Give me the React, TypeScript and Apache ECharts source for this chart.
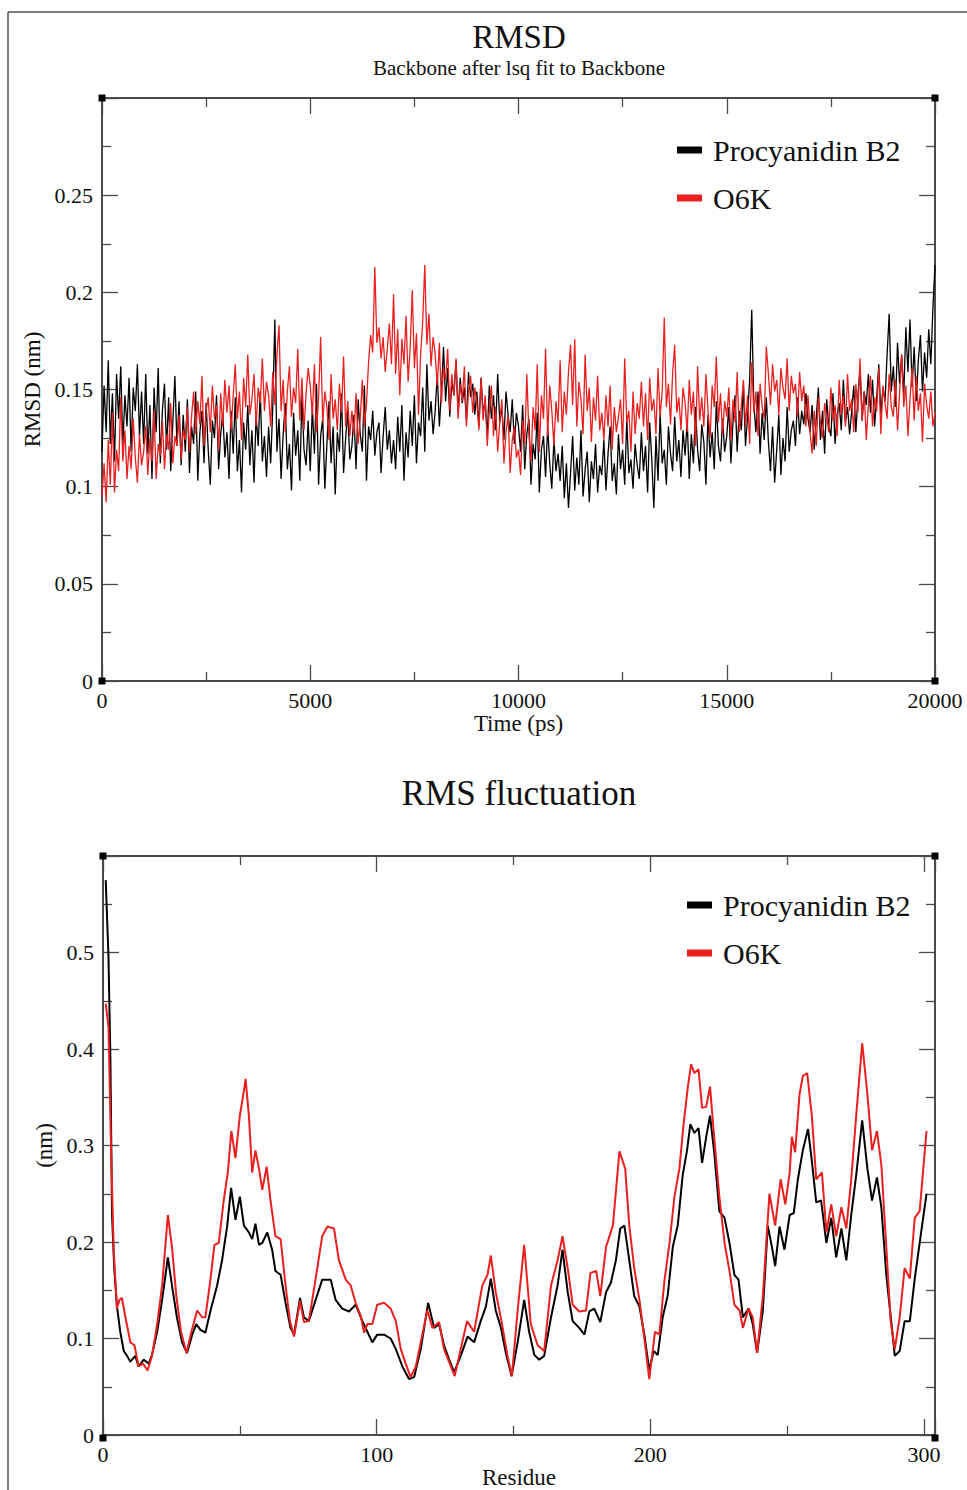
import React, { useEffect, useRef } from "react";
import * as echarts from "echarts";

// ---------- RMSD data (time step 50 ps, 0 .. 20000 ps) ----------
const rmsdStepPs = 50;
const rmsdProcyanidinB2 = [
  0.118, 0.152, 0.128, 0.165, 0.122, 0.148, 0.113, 0.158, 0.135, 0.162, 0.121, 0.147, 0.131, 0.156, 0.118, 0.151, 0.139, 0.163, 0.126, 0.149,
  0.122, 0.158, 0.117, 0.142, 0.104, 0.151, 0.128, 0.161, 0.112, 0.139, 0.153, 0.119, 0.146, 0.108, 0.133, 0.157, 0.121, 0.144, 0.111, 0.137,
  0.118, 0.145, 0.107, 0.131, 0.122, 0.149, 0.103, 0.128, 0.139, 0.112, 0.143, 0.119, 0.101, 0.134, 0.125, 0.147, 0.109, 0.127, 0.138, 0.115,
  0.128, 0.104, 0.139, 0.117, 0.146, 0.108, 0.124, 0.097, 0.133, 0.119, 0.142, 0.111, 0.129, 0.102, 0.137, 0.121, 0.149, 0.113, 0.126, 0.105,
  0.131, 0.112, 0.141, 0.186, 0.118, 0.135, 0.104, 0.127, 0.143, 0.109, 0.122, 0.098, 0.138, 0.116, 0.129, 0.103, 0.147, 0.119, 0.111, 0.134,
  0.108, 0.141, 0.117, 0.153, 0.101, 0.126, 0.135, 0.099, 0.122, 0.144, 0.112, 0.131, 0.096, 0.128, 0.118, 0.148, 0.107, 0.125, 0.139, 0.114,
  0.121, 0.137, 0.109, 0.145, 0.127, 0.118, 0.152, 0.103, 0.131, 0.124, 0.139, 0.116, 0.128, 0.133, 0.107, 0.126, 0.141, 0.119, 0.129, 0.112,
  0.124, 0.109, 0.136, 0.118, 0.142, 0.103, 0.128, 0.115, 0.139, 0.121, 0.147, 0.112, 0.133, 0.126, 0.151, 0.118, 0.163, 0.134, 0.144, 0.127,
  0.139, 0.158, 0.131, 0.149, 0.172, 0.144, 0.161, 0.136, 0.154, 0.147, 0.165, 0.138, 0.156, 0.143, 0.151, 0.134, 0.159, 0.146, 0.153, 0.137,
  0.149, 0.131, 0.156, 0.138, 0.144, 0.126, 0.152, 0.135, 0.147, 0.129, 0.158, 0.133, 0.141, 0.124, 0.149, 0.137, 0.128, 0.145, 0.122, 0.138,
  0.131, 0.118, 0.142, 0.109, 0.127, 0.135, 0.101, 0.122, 0.114, 0.138, 0.097, 0.119, 0.126, 0.105, 0.131, 0.112, 0.099, 0.124, 0.108, 0.117,
  0.103, 0.121, 0.094, 0.112, 0.089, 0.107, 0.126, 0.098, 0.115, 0.101, 0.129, 0.095, 0.109, 0.118, 0.092, 0.113, 0.104, 0.122, 0.097, 0.111,
  0.106, 0.124, 0.098, 0.117, 0.131, 0.103, 0.112, 0.096, 0.127, 0.109, 0.119, 0.101, 0.135, 0.107, 0.114, 0.099, 0.122, 0.111, 0.104, 0.128,
  0.108, 0.121, 0.097, 0.133, 0.114, 0.089, 0.126, 0.103, 0.138, 0.112, 0.119, 0.101, 0.131, 0.117, 0.108, 0.136, 0.113, 0.124, 0.105, 0.129,
  0.116, 0.134, 0.104, 0.127, 0.112, 0.141, 0.119, 0.108, 0.132, 0.123, 0.101, 0.137, 0.115, 0.128, 0.109, 0.144, 0.121, 0.113, 0.135, 0.118,
  0.126, 0.141, 0.112, 0.134, 0.147, 0.118, 0.139, 0.129, 0.152, 0.121, 0.136, 0.155, 0.191, 0.143, 0.128, 0.149, 0.117, 0.138, 0.124, 0.146,
  0.123, 0.108, 0.131, 0.102, 0.119, 0.137, 0.106, 0.125, 0.113, 0.141, 0.118, 0.129, 0.134, 0.121, 0.146, 0.127, 0.139, 0.132, 0.148, 0.135,
  0.128, 0.142, 0.119, 0.136, 0.151, 0.124, 0.139, 0.117, 0.145, 0.131, 0.126, 0.148, 0.122, 0.137, 0.143, 0.129, 0.155, 0.133, 0.141, 0.127,
  0.139, 0.152, 0.128, 0.147, 0.161, 0.134, 0.149, 0.142, 0.158, 0.138, 0.155, 0.131, 0.146, 0.163, 0.137, 0.151, 0.144, 0.168, 0.189, 0.149,
  0.162, 0.141, 0.174, 0.153, 0.168, 0.147, 0.182, 0.159, 0.186, 0.151, 0.172, 0.144, 0.165, 0.178, 0.149, 0.169, 0.156, 0.181, 0.163, 0.192,
  0.214,
];
const rmsdO6K = [
  0.095, 0.112, 0.092, 0.124, 0.101, 0.138, 0.097, 0.119, 0.108, 0.146, 0.113, 0.129, 0.104, 0.121, 0.109, 0.135, 0.115, 0.102, 0.127, 0.111,
  0.118, 0.131, 0.106, 0.125, 0.113, 0.139, 0.104, 0.122, 0.116, 0.134, 0.109, 0.127, 0.119, 0.143, 0.112, 0.126, 0.121, 0.137, 0.114, 0.129,
  0.124, 0.141, 0.118, 0.136, 0.149, 0.127, 0.144, 0.132, 0.157, 0.121, 0.139, 0.146, 0.128, 0.152, 0.135, 0.142, 0.119, 0.148, 0.131, 0.155,
  0.138, 0.152, 0.129, 0.147, 0.163, 0.135, 0.149, 0.124, 0.156, 0.141, 0.168, 0.137, 0.145, 0.158, 0.131, 0.151, 0.143, 0.166, 0.139, 0.154,
  0.147, 0.131, 0.159, 0.142, 0.168, 0.183, 0.139, 0.155, 0.128, 0.149, 0.162, 0.136, 0.151, 0.143, 0.171, 0.134, 0.156, 0.129, 0.148, 0.161,
  0.152, 0.137, 0.163, 0.128, 0.146, 0.177, 0.133, 0.149, 0.141, 0.124, 0.158, 0.135, 0.145, 0.129, 0.153, 0.138, 0.167, 0.131, 0.144, 0.126,
  0.139, 0.127, 0.148, 0.122, 0.135, 0.155, 0.131, 0.142, 0.164, 0.178, 0.169, 0.213, 0.174, 0.182, 0.166, 0.177, 0.159, 0.171, 0.184, 0.163,
  0.199, 0.158, 0.181, 0.147, 0.176, 0.163, 0.188, 0.154, 0.172, 0.201, 0.161, 0.179, 0.137, 0.168, 0.185, 0.214, 0.173, 0.189, 0.162, 0.177,
  0.168, 0.152, 0.174, 0.143, 0.161, 0.155, 0.171, 0.139, 0.158, 0.147, 0.166, 0.135, 0.153, 0.144, 0.162, 0.131, 0.149, 0.157, 0.138, 0.151,
  0.143, 0.129, 0.156, 0.134, 0.147, 0.121, 0.139, 0.152, 0.126, 0.141, 0.118, 0.133, 0.145, 0.112, 0.128, 0.137, 0.107, 0.124, 0.131, 0.115,
  0.119, 0.106, 0.134, 0.122, 0.158, 0.127, 0.113, 0.141, 0.129, 0.163, 0.118, 0.147, 0.135, 0.171, 0.126, 0.152, 0.139, 0.121, 0.144, 0.133,
  0.165, 0.128, 0.149, 0.137, 0.159, 0.173, 0.142, 0.176, 0.131, 0.154, 0.145, 0.127, 0.168, 0.139, 0.151, 0.123, 0.146, 0.134, 0.157, 0.129,
  0.138, 0.124, 0.147, 0.131, 0.152, 0.119, 0.141, 0.128, 0.136, 0.145, 0.122, 0.166, 0.133, 0.139, 0.118, 0.149, 0.127, 0.143, 0.135, 0.154,
  0.131, 0.148, 0.124, 0.156, 0.139, 0.145, 0.127, 0.161, 0.136, 0.149, 0.187, 0.141, 0.153, 0.132, 0.158, 0.173, 0.138, 0.146, 0.129, 0.151,
  0.143, 0.128, 0.155, 0.137, 0.149, 0.121, 0.162, 0.134, 0.146, 0.131, 0.158, 0.139, 0.125, 0.152, 0.141, 0.167, 0.133, 0.148, 0.127, 0.144,
  0.136, 0.151, 0.124, 0.145, 0.133, 0.159, 0.128, 0.142, 0.155, 0.131, 0.147, 0.122, 0.164, 0.138, 0.149, 0.126, 0.153, 0.141, 0.135, 0.172,
  0.158, 0.142, 0.163, 0.149, 0.155, 0.137, 0.161, 0.151, 0.145, 0.166, 0.139, 0.157, 0.148, 0.153, 0.136, 0.159, 0.144, 0.152, 0.131, 0.147,
  0.128, 0.117, 0.139, 0.121, 0.146, 0.132, 0.125, 0.143, 0.136, 0.128, 0.151, 0.134, 0.142, 0.126, 0.155, 0.137, 0.147, 0.131, 0.158, 0.139,
  0.145, 0.128, 0.153, 0.138, 0.166, 0.134, 0.149, 0.124, 0.142, 0.157, 0.131, 0.146, 0.139, 0.161, 0.127, 0.152, 0.143, 0.135, 0.158, 0.141,
  0.136, 0.155, 0.129, 0.148, 0.168, 0.141, 0.152, 0.126, 0.145, 0.161, 0.134, 0.157, 0.139, 0.148, 0.123, 0.153, 0.142, 0.135, 0.149, 0.131,
  0.138,
];

// ---------- RMSF data (residue, nm) ----------
const rmsfResidueB2 = [
  1, 2, 2.7, 3.3, 4.1, 5.1, 6.3, 7.6, 8.8, 10, 11.8, 13, 14.9, 16.7, 17.9, 19.8, 21.6, 23.7, 25.2, 27,
  28.9, 30.7, 32.6, 34.1, 35.6, 37.4, 39.3, 41.7, 43.5, 45.4, 46.8, 48.4, 50, 51.5, 53.3, 54.5, 55.7, 57, 58.2, 60,
  61.8, 63, 64.9, 66.7, 68.5, 69.8, 72, 73.4, 75.2, 77.7, 80.1, 83.2, 85, 87.4, 89.9, 92.3, 94.8, 96.6, 98.4, 100.2,
  102.7, 105.1, 107, 109.4, 111.8, 113.7, 116.1, 118.8, 121, 122.8, 124.6, 126.5, 128.3, 130.7, 133.2, 135.6, 138, 139.9, 141.7, 143.5,
  145.4, 147.2, 149.3, 151.5, 153.9, 155.7, 157.6, 159.4, 161.2, 163.7, 166.1, 167.9, 169.8, 171.6, 174, 175.9, 177.7, 179.5, 181.7, 183.8,
  185.6, 187.4, 189, 190.5, 192.3, 194.1, 196, 197.8, 199.6, 201.2, 202.7, 204.5, 206.3, 208.2, 210, 211.8, 213.4, 214.6, 216.1, 217.6,
  218.9, 220.4, 221.8, 223.4, 225.2, 227.1, 228.9, 230.7, 232.2, 233.8, 235.9, 237.4, 239, 241.1, 242.9, 244.4, 245.6, 247.2, 249, 250.9,
  252.4, 253.9, 255.7, 257.6, 259, 260.6, 262.4, 264.3, 266.1, 267.9, 269.8, 271.6, 273.4, 275.2, 277.4, 279.3, 281, 282.8, 284.4, 286.2,
  288, 289.3, 291.1, 292.9, 294.8, 296.6, 298.4, 300.9,
];
const rmsfProcyanidinB2 = [
  0.575, 0.496, 0.39, 0.228, 0.173, 0.133, 0.107, 0.087, 0.082, 0.076, 0.082, 0.071, 0.078, 0.074, 0.083, 0.107, 0.14, 0.184, 0.155, 0.122,
  0.096, 0.085, 0.104, 0.115, 0.109, 0.106, 0.129, 0.155, 0.181, 0.217, 0.256, 0.223, 0.247, 0.217, 0.21, 0.203, 0.219, 0.197, 0.199, 0.21,
  0.192, 0.17, 0.166, 0.137, 0.111, 0.104, 0.142, 0.122, 0.118, 0.14, 0.161, 0.161, 0.14, 0.131, 0.128, 0.135, 0.118, 0.107, 0.096, 0.104,
  0.104, 0.1, 0.089, 0.071, 0.058, 0.06, 0.089, 0.137, 0.111, 0.115, 0.093, 0.078, 0.065, 0.082, 0.102, 0.096, 0.118, 0.133, 0.162, 0.129,
  0.111, 0.085, 0.061, 0.096, 0.14, 0.107, 0.083, 0.078, 0.082, 0.122, 0.155, 0.192, 0.148, 0.118, 0.111, 0.104, 0.128, 0.131, 0.117, 0.148,
  0.158, 0.181, 0.214, 0.217, 0.181, 0.144, 0.133, 0.104, 0.067, 0.087, 0.083, 0.122, 0.144, 0.195, 0.217, 0.269, 0.295, 0.322, 0.313, 0.318,
  0.282, 0.309, 0.331, 0.291, 0.232, 0.225, 0.199, 0.166, 0.161, 0.122, 0.131, 0.115, 0.085, 0.129, 0.217, 0.195, 0.175, 0.216, 0.192, 0.228,
  0.23, 0.265, 0.295, 0.317, 0.284, 0.241, 0.243, 0.199, 0.225, 0.184, 0.214, 0.181, 0.228, 0.269, 0.326, 0.276, 0.243, 0.267, 0.236, 0.166,
  0.118, 0.082, 0.087, 0.118, 0.118, 0.162, 0.199, 0.25,
];
const rmsfResidueO6K = [
  1, 2, 2.9, 3.9, 5.1, 6, 6.9, 8.2, 10, 11.5, 13, 14.6, 16.3, 17.9, 19.8, 21.6, 23.7, 25.2, 26.8, 28.5,
  30.5, 32.3, 34.4, 36.2, 37.4, 39.3, 40.7, 42.3, 44.1, 45.6, 46.9, 48.4, 50, 51.5, 52.1, 53.3, 54.5, 55.7, 57, 58.2,
  59.8, 61.2, 63, 64.9, 66.7, 68.3, 69.8, 72, 73.4, 75.2, 77.7, 80.1, 82, 84.4, 86.2, 88.7, 90.5, 92.3, 94.1, 95.4,
  96.6, 98.4, 100.2, 102.7, 105.1, 107, 108.8, 110.6, 112.4, 114.3, 116.1, 118.5, 120.4, 122.8, 124.6, 127.1, 128.5, 130.7, 133, 135.6,
  138.6, 140.5, 141.7, 143.5, 145.6, 147.8, 149.4, 151.5, 153.9, 156.3, 158.8, 161.2, 163.7, 166.1, 167.9, 169.8, 171.6, 174, 176.5, 178.1,
  180.2, 181.7, 183.8, 186.3, 188.7, 190.8, 192.3, 194.1, 196, 197.8, 199.6, 201.7, 203.3, 205.1, 207, 208.8, 210.6, 212.2, 213.7, 214.9,
  216.1, 217.6, 218.9, 220.4, 221.8, 223.4, 225.2, 227.1, 228.9, 230.7, 232.6, 233.8, 235.9, 237.4, 239, 241.1, 243.5, 245.6, 247.6, 249.3,
  250.9, 251.7, 252.9, 254.5, 255.7, 257.3, 259, 260.6, 262.7, 264.3, 266.1, 267.9, 269.8, 271.6, 273.4, 275.2, 277.4, 279.3, 281, 282.8,
  284.4, 286.2, 287.8, 289.3, 291.1, 292.9, 294.8, 296.6, 298.4, 300.9,
];
const rmsfO6K = [
  0.447, 0.423, 0.302, 0.192, 0.131, 0.14, 0.142, 0.122, 0.096, 0.093, 0.071, 0.074, 0.067, 0.082, 0.115, 0.155, 0.228, 0.195, 0.144, 0.107,
  0.085, 0.107, 0.129, 0.122, 0.122, 0.162, 0.197, 0.199, 0.243, 0.272, 0.315, 0.287, 0.331, 0.357, 0.369, 0.331, 0.272, 0.295, 0.276, 0.254,
  0.278, 0.243, 0.206, 0.203, 0.155, 0.118, 0.102, 0.139, 0.117, 0.118, 0.162, 0.206, 0.216, 0.214, 0.181, 0.161, 0.155, 0.137, 0.124, 0.106,
  0.115, 0.115, 0.135, 0.137, 0.131, 0.118, 0.089, 0.074, 0.06, 0.071, 0.096, 0.129, 0.111, 0.117, 0.089, 0.071, 0.061, 0.089, 0.118, 0.107,
  0.155, 0.166, 0.186, 0.148, 0.118, 0.082, 0.061, 0.129, 0.197, 0.115, 0.093, 0.087, 0.155, 0.181, 0.206, 0.173, 0.135, 0.128, 0.129, 0.168,
  0.17, 0.144, 0.195, 0.217, 0.294, 0.276, 0.217, 0.173, 0.14, 0.1, 0.058, 0.107, 0.104, 0.159, 0.199, 0.247, 0.276, 0.324, 0.361, 0.384,
  0.375, 0.379, 0.339, 0.34, 0.361, 0.306, 0.247, 0.199, 0.17, 0.135, 0.129, 0.111, 0.131, 0.122, 0.085, 0.144, 0.25, 0.217, 0.265, 0.239,
  0.272, 0.309, 0.293, 0.353, 0.372, 0.375, 0.331, 0.265, 0.272, 0.21, 0.239, 0.206, 0.236, 0.214, 0.265, 0.331, 0.406, 0.353, 0.295, 0.315,
  0.28, 0.195, 0.118, 0.089, 0.122, 0.173, 0.162, 0.225, 0.232, 0.315,
];

const seriesNames = ["Procyanidin B2", "O6K"];

const FONT = "'Liberation Serif', 'Times New Roman', Times, serif";
const AXIS = "#4a4a4a";
const BLACK = "#000000";
const RED = "#e8201f";

const G1 = { left: 102, top: 98, width: 833, height: 583 };
const G2 = { left: 103, top: 856, width: 832, height: 582 };

const plainNumber = (v: number) => String(v);

function frameAxis(extra: any, withLabels: boolean) {
  return {
    type: "value",
    axisLine: { show: true, onZero: false, lineStyle: { color: AXIS, width: 2 } },
    axisTick: { show: true, inside: true, length: 16, lineStyle: { color: AXIS, width: 1.3 } },
    minorTick: { show: true, splitNumber: 2, length: 9, lineStyle: { color: AXIS, width: 1.3 } },
    splitLine: { show: false },
    minorSplitLine: { show: false },
    axisLabel: withLabels
      ? { show: true, fontFamily: FONT, fontSize: 22, color: "#111" }
      : { show: false },
    ...extra,
  };
}

function corners(g: { left: number; top: number; width: number; height: number }) {
  const pts = [
    [g.left, g.top],
    [g.left + g.width, g.top],
    [g.left, g.top + g.height],
    [g.left + g.width, g.top + g.height],
  ];
  return pts.map(([x, y]) => ({
    type: "rect",
    shape: { x: x - 3.5, y: y - 3.5, width: 7, height: 7 },
    style: { fill: "#000" },
    z: 100,
  }));
}

export default function App() {
  const ref = useRef<HTMLDivElement>(null);

  useEffect(() => {
    if (!ref.current) return;
    const chart = echarts.init(ref.current, undefined, { renderer: "svg" });

    const rmsdB2 = rmsdProcyanidinB2.map((v, i) => [i * rmsdStepPs, v]);
    const rmsdO = rmsdO6K.map((v, i) => [i * rmsdStepPs, v]);
    const rmsfB2 = rmsfProcyanidinB2.map((v, i) => [rmsfResidueB2[i], v]);
    const rmsfO = rmsfO6K.map((v, i) => [rmsfResidueO6K[i], v]);

    const nameStyle = { fontFamily: FONT, fontSize: 23, color: "#111" };
    const legendText = { fontFamily: FONT, fontSize: 30, color: "#111", lineHeight: 34, padding: [0, 0, 0, 6] };
    const labelStyle = { show: true, fontFamily: FONT, fontSize: 22, color: "#111", formatter: plainNumber };

    chart.setOption({
      animation: false,
      backgroundColor: "#ffffff",
      color: [BLACK, RED],
      grid: [
        { ...G1, containLabel: false },
        { ...G2, containLabel: false },
      ],
      xAxis: [
        frameAxis(
          {
            gridIndex: 0, position: "bottom", min: 0, max: 20000, interval: 5000,
            name: "Time (ps)", nameLocation: "middle", nameGap: 31, nameTextStyle: nameStyle,
            axisLabel: { ...labelStyle, margin: 8 },
          },
          true
        ),
        frameAxis({ gridIndex: 0, position: "top", min: 0, max: 20000, interval: 5000 }, false),
        frameAxis(
          {
            gridIndex: 1, position: "bottom", min: 0, max: 304, interval: 100,
            name: "Residue", nameLocation: "middle", nameGap: 31, nameTextStyle: nameStyle,
            axisLabel: { ...labelStyle, margin: 8, showMaxLabel: false },
          },
          true
        ),
        frameAxis({ gridIndex: 1, position: "top", min: 0, max: 304, interval: 100 }, false),
      ],
      yAxis: [
        frameAxis(
          {
            gridIndex: 0, position: "left", min: 0, max: 0.3, interval: 0.05,
            name: "RMSD (nm)", nameLocation: "middle", nameGap: 58, nameRotate: 90, nameTextStyle: nameStyle,
            axisLabel: { ...labelStyle, margin: 9, showMaxLabel: false },
          },
          true
        ),
        frameAxis({ gridIndex: 0, position: "right", min: 0, max: 0.3, interval: 0.05 }, false),
        frameAxis(
          {
            gridIndex: 1, position: "left", min: 0, max: 0.6, interval: 0.1,
            name: "(nm)", nameLocation: "middle", nameGap: 47, nameRotate: 90, nameTextStyle: nameStyle,
            axisLabel: { ...labelStyle, margin: 9, showMaxLabel: false },
          },
          true
        ),
        frameAxis({ gridIndex: 1, position: "right", min: 0, max: 0.6, interval: 0.1 }, false),
      ],
      legend: [
        {
          data: seriesNames, left: 672, top: 128, orient: "vertical", icon: "rect",
          itemWidth: 25, itemHeight: 7, itemGap: 14, selectedMode: false, textStyle: legendText,
        },
        {
          data: seriesNames, left: 682, top: 883, orient: "vertical", icon: "rect",
          itemWidth: 25, itemHeight: 7, itemGap: 14, selectedMode: false, textStyle: legendText,
        },
      ],
      series: [
        {
          name: seriesNames[0], type: "line", xAxisIndex: 0, yAxisIndex: 0, data: rmsdB2,
          symbol: "none", lineStyle: { color: BLACK, width: 1.3 }, itemStyle: { color: BLACK }, z: 2,
        },
        {
          name: seriesNames[1], type: "line", xAxisIndex: 0, yAxisIndex: 0, data: rmsdO,
          symbol: "none", lineStyle: { color: RED, width: 1.3 }, itemStyle: { color: RED }, z: 3,
        },
        {
          name: seriesNames[0], type: "line", xAxisIndex: 2, yAxisIndex: 2, data: rmsfB2,
          symbol: "none", lineStyle: { color: BLACK, width: 2 }, itemStyle: { color: BLACK }, z: 2,
        },
        {
          name: seriesNames[1], type: "line", xAxisIndex: 2, yAxisIndex: 2, data: rmsfO,
          symbol: "none", lineStyle: { color: RED, width: 2 }, itemStyle: { color: RED }, z: 3,
        },
      ],
      graphic: [
        { type: "line", shape: { x1: 8, y1: 12, x2: 967, y2: 12 }, style: { stroke: "#555", lineWidth: 1.5 } },
        { type: "line", shape: { x1: 8, y1: 12, x2: 8, y2: 1490 }, style: { stroke: "#555", lineWidth: 1.5 } },
        {
          type: "text", x: 519, y: 37,
          style: { text: "RMSD", fontFamily: FONT, fontSize: 33, fill: "#111", align: "center", verticalAlign: "middle" },
        },
        {
          type: "text", x: 519, y: 68,
          style: { text: "Backbone after lsq fit to Backbone", fontFamily: FONT, fontSize: 21, fill: "#111", align: "center", verticalAlign: "middle" },
        },
        {
          type: "text", x: 519, y: 793,
          style: { text: "RMS fluctuation", fontFamily: FONT, fontSize: 35, fill: "#111", align: "center", verticalAlign: "middle" },
        },
        ...corners(G1),
        ...corners(G2),
      ],
    });

    return () => chart.dispose();
  }, []);

  return (
    <div
      ref={ref}
      style={{ position: "absolute", left: 0, top: 0, width: 967, height: 1490, background: "#fff" }}
    />
  );
}
